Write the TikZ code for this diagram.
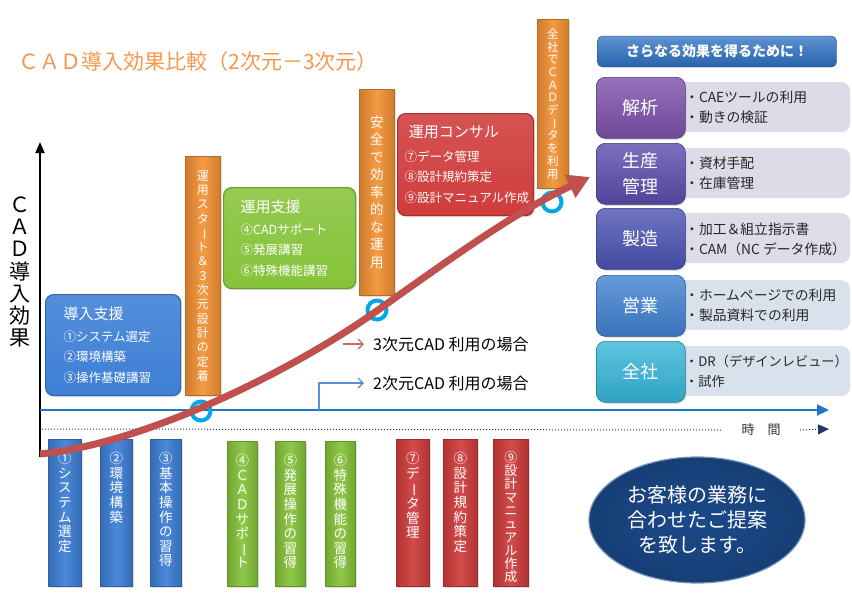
\documentclass[tikz,border=0pt]{standalone}
\usepackage{fontspec}
\setmainfont{Noto Sans CJK JP}
\usepackage{graphicx}
\usepackage{tikz}
\usetikzlibrary{arrows.meta,shapes.geometric,shadows}
\definecolor{titleorange}{HTML}{F7964A}
\definecolor{barorange}{HTML}{F39234}
\definecolor{stepblue}{HTML}{3D7FD6}
\definecolor{stepgreen}{HTML}{86C33A}
\definecolor{stepred}{HTML}{D03C3C}
\definecolor{curvered}{HTML}{C0504D}
\definecolor{axisblue}{HTML}{1F77C9}
\definecolor{linkblue}{HTML}{5B8FD8}
\definecolor{linkred}{HTML}{D06A6A}
\definecolor{ringcyan}{HTML}{00A8E8}
\definecolor{dotnavy}{HTML}{1F3A70}
\definecolor{headblue}{HTML}{2A6EC0}
\definecolor{kaiseki}{HTML}{7B4FAA}
\definecolor{seisan}{HTML}{5C4AAC}
\definecolor{seizo}{HTML}{4A52B2}
\definecolor{eigyo}{HTML}{3F80D0}
\definecolor{zensha}{HTML}{35B5D8}
\definecolor{itemgray}{HTML}{DEDBE8}
\definecolor{itemblue}{HTML}{D9E2EC}
\definecolor{ovalnavy}{HTML}{1B4A8A}
\newcommand{\vchoon}{\rotatebox[origin=c]{-90}{ー}}

\begin{document}
\begin{tikzpicture}[x=1pt,y=-1pt,>=Latex,
  font=\fontsize{12.5}{15}\selectfont,
  vbar/.style={draw=#1!75!black,line width=0.6pt,left color=#1!85!black,right color=#1!85!black,middle color=#1!92!white,
    inner sep=0pt,anchor=north west,text=white,align=center,
    drop shadow={opacity=0.25,shadow xshift=1.5pt,shadow yshift=-1.5pt}},
  steptext/.style={anchor=north,yshift=-13pt,text=white,align=center,inner sep=0pt,font=\fontsize{13.5}{14.6}\selectfont},
  stepbox/.style={rounded corners=8pt,draw=#1!80!black,line width=1.2pt,top color=#1!88!white,bottom color=#1,
    anchor=north west,text=white,align=left,inner ysep=0pt,font=\fontsize{12.5}{20.5}\selectfont,
    drop shadow={opacity=0.25,shadow xshift=1.5pt,shadow yshift=-1.5pt}},
  sidebox/.style={rounded corners=9pt,draw=#1!70!black,line width=0.6pt,top color=#1!80!white,bottom color=#1!90!black,
    minimum width=89pt,minimum height=61pt,anchor=north west,text=white,align=center,
    font=\fontsize{18}{26}\selectfont,drop shadow={opacity=0.25,shadow xshift=1pt,shadow yshift=-1.5pt}},
  itembox/.style={rounded corners=9pt,fill=#1,minimum width=190pt,minimum height=50pt,anchor=north west},
  items/.style={anchor=west,align=left,inner sep=0pt,font=\fontsize{13.8}{20}\selectfont,text=black!85},
  ring/.style={draw=ringcyan,line width=4pt},
  ]
\useasboundingbox (0,0) rectangle (852,606);
% title and axis label
\node[anchor=west,text=titleorange,font=\fontsize{21}{24}\selectfont] (title) at (15,62) {ＣＡＤ導入効果比較（2次元－3次元）};
\node[align=center,font=\fontsize{21}{22.2}\selectfont] (ylabel) at (20,272) {Ｃ\\Ａ\\Ｄ\\導\\入\\効\\果};

% milestones along the curve
\node[vbar=barorange,minimum width=35pt,minimum height=239pt,font=\fontsize{12}{14.3}\selectfont] (start3d) at (185,156)
  {運\\用\\ス\\タ\\\vchoon\\ト\\＆\\３\\次\\元\\設\\計\\の\\定\\着};
\node[vbar=barorange,minimum width=35pt,minimum height=206pt,font=\fontsize{13.5}{17.5}\selectfont] (safeop) at (359,89)
  {安\\全\\で\\効\\率\\的\\な\\運\\用};
\node[vbar=barorange,minimum width=31pt,minimum height=169pt,font=\fontsize{11.5}{12.7}\selectfont] (allcad) at (537,19)
  {全\\社\\で\\Ｃ\\Ａ\\Ｄ\\デ\\\vchoon\\タ\\を\\利\\用};

% support phases
\node[stepbox=stepblue,text width=99pt,inner xsep=18pt,minimum height=101pt] (intro) at (45,294)
  {{\fontsize{15}{18}\selectfont 導入支援}\\[1pt]①システム選定\\②環境構築\\③操作基礎講習};
\node[stepbox=stepgreen,text width=98pt,inner xsep=17pt,minimum height=101pt] (support) at (223,187)
  {{\fontsize{15}{18}\selectfont 運用支援}\\[1pt]④CADサポート\\⑤発展講習\\⑥特殊機能講習};
\node[stepbox=stepred,text width=122pt,inner xsep=7pt,minimum height=102pt] (consult) at (397,113)
  {{\fontsize{15}{18}\selectfont\ 運用コンサル}\\[3pt]⑦データ管理\\⑧設計規約策定\\⑨設計マニュアル作成};

% step bars under the time axis
\node[vbar=stepblue,minimum width=33pt,minimum height=147pt,label={[steptext]north:{①\\シ\\ス\\テ\\ム\\選\\定}}] (s1) at (48,439) {};
\node[vbar=stepblue,minimum width=32pt,minimum height=147pt,label={[steptext]north:{②\\環\\境\\構\\築}}] (s2) at (100,439) {};
\node[vbar=stepblue,minimum width=31pt,minimum height=147pt,label={[steptext]north:{③\\基\\本\\操\\作\\の\\習\\得}}] (s3) at (150,439) {};
\node[vbar=stepgreen,minimum width=30pt,minimum height=145pt,label={[steptext]north:{④\\Ｃ\\Ａ\\Ｄ\\サ\\ポ\\\vchoon\\ト}}] (s4) at (227,441) {};
\node[vbar=stepgreen,minimum width=30pt,minimum height=145pt,label={[steptext]north:{⑤\\発\\展\\操\\作\\の\\習\\得}}] (s5) at (275,441) {};
\node[vbar=stepgreen,minimum width=30pt,minimum height=145pt,label={[steptext]north:{⑥\\特\\殊\\機\\能\\の\\習\\得}}] (s6) at (325,441) {};
\node[vbar=stepred,minimum width=33pt,minimum height=147pt,label={[steptext]north:{⑦\\デ\\\vchoon\\タ\\管\\理}}] (s7) at (396,439) {};
\node[vbar=stepred,minimum width=34pt,minimum height=147pt,label={[steptext]north:{⑧\\設\\計\\規\\約\\策\\定}}] (s8) at (443,439) {};
\node[vbar=stepred,minimum width=35pt,minimum height=147pt,label={[steptext,yshift=1pt,font=\fontsize{13}{13.3}\selectfont]north:{⑨\\設\\計\\マ\\ニ\\ュ\\ア\\ル\\作\\成}}] (s9) at (493,439) {};

% axes
\coordinate (origin) at (40,457);
\coordinate (yend) at (40,142);
\coordinate (xstart) at (40,410);
\coordinate (xend) at (829,410);
\draw[line width=1.8pt,-{Triangle[length=11pt,width=9pt]}] (origin) -- (yend);
\draw[axisblue,line width=2pt,-{Triangle[length=12pt,width=11pt]}] (xstart) -- (xend);
\node[font=\fontsize{13}{15}\selectfont,text=black!80] (timelbl) at (761,430) {時\quad 間};
\coordinate (tstart) at (42,429);
\coordinate (tend) at (829,429);
\draw[dotnavy,dotted,line width=1pt] (tstart) -- ([xshift=-16pt]timelbl.west);
\draw[dotnavy,dotted,line width=1pt,-{Triangle[length=11pt,width=10pt]}] ([xshift=16pt]timelbl.east) -- (tend);

% 2D / 3D legend
\node[anchor=west,inner sep=0pt,font=\fontsize{16}{18}\selectfont] (lbl3d) at (373,344) {3次元CAD 利用の場合};
\node[anchor=west,inner sep=0pt,font=\fontsize{16}{18}\selectfont] (lbl2d) at (373,383) {2次元CAD 利用の場合};
\coordinate (tail3d) at (343,344);
\coordinate (tap2d) at (319,410);
\draw[linkred,line width=1.3pt,-{Straight Barb[length=5pt,width=10pt]}] (tail3d) -- ([xshift=-9pt]lbl3d.west);
\draw[linkblue,line width=1.3pt,-{Straight Barb[length=5pt,width=10pt]}] (tap2d) |- ([xshift=-9pt]lbl2d.west);

% effect curve
\draw[ring] (201,411) circle[radius=9.5];
\draw[ring] (377,310) circle[radius=9.5];
\draw[ring] (552,202) circle[radius=9.5];
\draw[curvered,line width=7pt,-{Triangle[length=22pt,width=24pt]}] (40,454) .. controls (150,443) and (300,366) .. (378,310)
  .. controls (450,259) and (515,212) .. (590,177);

% right panel
\node[rounded corners=5pt,top color=headblue!75!white,bottom color=headblue!90!black,draw=headblue!70!black,
  minimum width=239pt,minimum height=31pt,text=white,font=\bfseries\fontsize{14}{16}\selectfont] (header) at (717,51.5)
  {さらなる効果を得るために！};

\node[itembox=itemgray] (kaisekiB) at (660,82) {};
\node[sidebox=kaiseki] (kaiseki) at (596,77) {解析};
\node[items] (kaisekiT) at (685,107.5) {・CAEツールの利用\\・動きの検証};

\node[itembox=itemgray] (seisanB) at (660,148) {};
\node[sidebox=seisan] (seisan) at (596,143) {生産\\管理};
\node[items] (seisanT) at (685,173.5) {・資材手配\\・在庫管理};

\node[itembox=itemgray!70!itemblue] (seizoB) at (660,213) {};
\node[sidebox=seizo] (seizo) at (596,208) {製造};
\node[items] (seizoT) at (685,239) {・加工＆組立指示書\\・CAM（NC データ作成）};

\node[itembox=itemblue] (eigyoB) at (660,280) {};
\node[sidebox=eigyo] (eigyo) at (596,275) {営業};
\node[items] (eigyoT) at (685,305.5) {・ホームページでの利用\\・製品資料での利用};

\node[itembox=itemblue] (zenshaB) at (660,346) {};
\node[sidebox=zensha] (zensha) at (596,341) {全社};
\node[items,font=\fontsize{13.2}{20}\selectfont] (zenshaT) at (685,371.5) {・DR（デザインレビュー）\\・試作};

% proposal
\node[ellipse,minimum width=216pt,minimum height=126pt,inner color=ovalnavy,outer color=ovalnavy!85!black,
  draw=ovalnavy!60!white,line width=1.2pt,text=white,align=center,font=\fontsize{20}{25}\selectfont] (proposal) at (697,520)
  {お客様の業務に\\合わせたご提案\\を致します。};
\end{tikzpicture}
\end{document}
